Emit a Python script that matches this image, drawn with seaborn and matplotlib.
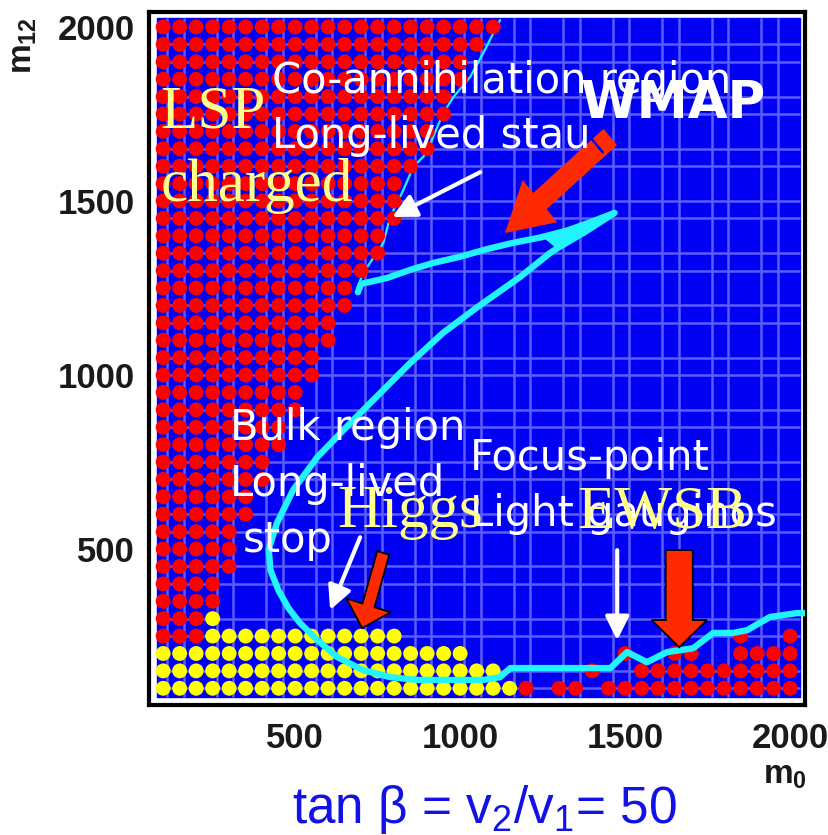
import numpy as np
import pandas as pd
import matplotlib
matplotlib.use("Agg")
import matplotlib.pyplot as plt
import seaborn as sns
from matplotlib.patches import Rectangle, FancyArrow

# ---------------- data ----------------
# stau-LSP (charged LSP) region: for each m12 row, largest m0 with a red point (m0 starts at 100)
stau_m12 = [250, 300, 350, 400, 450, 500, 550, 600, 650, 700, 750, 800, 850, 900, 950,
            1000, 1050, 1100, 1150, 1200, 1250, 1300, 1350, 1400, 1450, 1500, 1550,
            1600, 1650, 1700, 1750, 1800, 1850, 1900, 1950, 2000]
stau_edge = [200, 200, 250, 250, 300, 300, 300, 350, 350, 400, 400, 450, 450, 500, 500,
             550, 550, 600, 600, 650, 650, 700, 750, 750, 800, 800, 800,
             850, 900, 900, 950, 950, 1000, 1000, 1050, 1100]

# Higgs-excluded region (yellow)
higgs_m12 = [100, 150, 200, 250, 300]
higgs_start = [100, 100, 100, 250, 250]
higgs_end = [1150, 1100, 1000, 800, 250]

# no EWSB region (red, bottom right)
ewsb_100 = [1200, 1300, 1350, 1450, 1500, 1550, 1600, 1650, 1700, 1750, 1800, 1850, 1900, 1950, 2000]
ewsb_150 = [1400, 1550, 1600, 1650, 1700, 1750, 1800, 1850, 1900, 1950, 2000]
ewsb_200 = [1500, 1650, 1700, 1850, 1900, 1950, 2000]
ewsb_250 = [1850, 2000]

# WMAP strip (cyan)
wmap_m0 = [690, 700, 779, 848, 918, 1000, 1082, 1161, 1242, 1324, 1403, 1468,
           1380, 1294, 1273, 1182, 1052, 948, 848, 767, 667, 567, 494, 445, 420, 425,
           450, 480, 515, 567, 627, 706, 788, 870, 970, 1070, 1121, 1152, 1221, 1300,
           1455, 1506, 1566, 1627, 1706, 1767, 1827, 1870, 1939, 2021, 2045]
wmap_m12 = [1238, 1262, 1279, 1302, 1322, 1340, 1362, 1380, 1395, 1415, 1442, 1466,
            1412, 1364, 1351, 1282, 1195, 1121, 1034, 957, 862, 764, 670, 575, 500, 440,
            380, 330, 287, 239, 190, 152, 132, 124, 124, 124, 132, 158, 158, 158,
            158, 204, 175, 204, 215, 259, 259, 267, 305, 316, 316]
wedge_m0 = [1240, 1324, 1403, 1470, 1380, 1294, 1265]
wedge_m12 = [1400, 1418, 1446, 1468, 1410, 1362, 1385]
# thin WMAP edge along the stau boundary (co-annihilation strip)
coann_m0 = [1121, 1070, 1030, 980, 949, 918, 899, 858, 828, 788, 767, 706, 688]
coann_m12 = [2020, 1925, 1856, 1799, 1753, 1684, 1638, 1598, 1532, 1454, 1379, 1293, 1250]

# ---------------- build point table ----------------
rows = []
for m12, edge in zip(stau_m12, stau_edge):
    for m0 in range(100, edge + 1, 50):
        rows.append((m0, m12, "stau"))
for m12, a, b in zip(higgs_m12, higgs_start, higgs_end):
    for m0 in range(a, b + 1, 50):
        rows.append((m0, m12, "higgs"))
for m12, lst in zip([100, 150, 200, 250], [ewsb_100, ewsb_150, ewsb_200, ewsb_250]):
    for m0 in lst:
        rows.append((m0, m12, "ewsb"))
pts = pd.DataFrame(rows, columns=["m0", "m12", "region"])
wmap = pd.DataFrame({"m0": wmap_m0, "m12": wmap_m12})
coann = pd.DataFrame({"m0": coann_m0, "m12": coann_m12})

# ---------------- figure ----------------
sns.set_style("white")
plt.rcParams["font.family"] = ["DejaVu Sans"]
plt.rcParams["mathtext.fontset"] = "custom"
plt.rcParams["mathtext.rm"] = "Liberation Sans"
plt.rcParams["mathtext.it"] = "Liberation Sans"
plt.rcParams["mathtext.bf"] = "Liberation Sans:bold"

fig = plt.figure(figsize=(8.29, 8.35), dpi=100)
ax = fig.add_axes([0.1797, 0.1557, 0.7913, 0.8299])
ax.set_xlim(57, 2045)
ax.set_ylim(52, 2043)
ax.set_facecolor("white")

BLUE = "#0000f5"
CYAN = "#22f4ff"
ax.add_patch(Rectangle((82, 75), 2030 - 82, 2026 - 75, color=BLUE, zorder=0))
gx = np.sort(np.concatenate([np.arange(112, 2030, 150), np.arange(162, 2030, 150)]))
gy = np.sort(np.concatenate([np.arange(100, 2026, 150), np.arange(150, 2026, 150)]))
ax.vlines(gx, 75, 2026, color="#5c5cff", lw=1.8, zorder=1)
ax.hlines(gy, 82, 2030, color="#5c5cff", lw=1.8, zorder=1)

sns.scatterplot(data=pts, x="m0", y="m12", hue="region",
                palette={"stau": "#ff0000", "higgs": "#ffff00", "ewsb": "#ff0000"},
                s=115, linewidth=0, legend=False, ax=ax, zorder=3)

sns.lineplot(data=coann, x="m0", y="m12", sort=False, estimator=None,
             color=CYAN, lw=1.6, ax=ax, zorder=2)
sns.lineplot(data=wmap, x="m0", y="m12", sort=False, estimator=None,
             color=CYAN, lw=4.6, ax=ax, zorder=4)
ax.fill(wedge_m0, wedge_m12, color=CYAN, lw=0, zorder=4)

# arrows
ax.add_patch(FancyArrow(1455, 1684, 1136 - 1455, 1408 - 1684, width=62, head_width=160,
                        head_length=140, length_includes_head=True, fc="#ff2a00",
                        ec="none", zorder=6))
ax.plot([1392, 1432], [1686, 1640], color=BLUE, lw=1.8, zorder=7)
ax.add_patch(FancyArrow(767, 489, 703 - 767, 273 - 489, width=38, head_width=140,
                        head_length=68, length_includes_head=True, fc="#ff2a00",
                        ec="black", lw=1.3, zorder=6))
ax.add_patch(FancyArrow(1664, 497, 0, 218 - 497, width=82, head_width=168,
                        head_length=78, length_includes_head=True, fc="#ff2a00",
                        ec="black", lw=1.3, zorder=6))

wa = dict(arrowstyle="-|>,head_length=0.9,head_width=0.45", color="white", lw=3,
          mutation_scale=16, shrinkA=0, shrinkB=0)
ax.annotate("", xy=(794, 1454), xytext=(1061, 1583), arrowprops=wa, zorder=6)
ax.annotate("", xy=(606, 325), xytext=(697, 534), arrowprops=wa, zorder=6)
ax.annotate("", xy=(1476, 238), xytext=(1476, 497), arrowprops=wa, zorder=6)

# texts
serif = dict(family="Liberation Serif", color="#ffff8c", fontsize=44, va="baseline", zorder=8)
sans = dict(family="DejaVu Sans", color="white", fontsize=30, va="baseline", zorder=8)
ax.text(91, 1712, "LSP", **serif)
ax.text(91, 1500, "charged", **serif)
ax.text(430, 1810, "Co-annihilation region", **sans)
ax.text(430, 1652, "Long-lived stau", **sans)
ax.text(1364, 1739, "WMAP", family="DejaVu Sans", fontweight="bold", color="white",
        fontsize=37, va="baseline", zorder=8)
ax.text(303, 813, "Bulk region", **sans)
ax.text(303, 652, "Long-lived", **sans)
ax.text(342, 491, "stop", **sans)
ax.text(1030, 727, "Focus-point", **sans)
ax.text(1030, 566, "Light gauginos", **sans)
ax.text(627, 563, "Higgs", **serif)
ax.text(1355, 560, "EWSB", **serif)

# axes styling
ax.set_xticks([500, 1000, 1500, 2000])
ax.set_yticks([500, 1000, 1500, 2000])
ax.set_xticks([250, 750, 1250, 1750], minor=True)
ax.set_yticks([250, 750, 1250, 1750], minor=True)
ax.tick_params(which="major", direction="in", length=6, width=1.5, pad=12,
               labelsize=25, colors="black")
ax.tick_params(which="minor", direction="in", length=4, width=1.2)
ax.tick_params(axis="y", pad=10)
for lab in ax.get_xticklabels() + ax.get_yticklabels():
    lab.set_family("Liberation Sans")
    lab.set_fontweight("bold")
    lab.set_color("#1a1a1a")
ax.set_xlabel("")
ax.set_ylabel("")
for sp in ax.spines.values():
    sp.set_linewidth(3)
    sp.set_color("black")

fig.text(0.920, 0.062, r"m$_\mathbf{0}$", family="Liberation Sans", fontweight="bold",
         fontsize=24, color="#1a1a1a", ha="left", va="baseline")
fig.text(0.028, 0.946, r"m$_\mathbf{12}$", family="Liberation Sans", fontweight="bold",
         fontsize=24, color="#1a1a1a", rotation=90, ha="center", va="center")
fig.text(0.584, 0.014, r"tan β = v$_2$/v$_1$= 50", family="Liberation Sans",
         fontsize=37, color="#1212e6", ha="center", va="baseline")

fig.savefig("out.png", dpi=100)
